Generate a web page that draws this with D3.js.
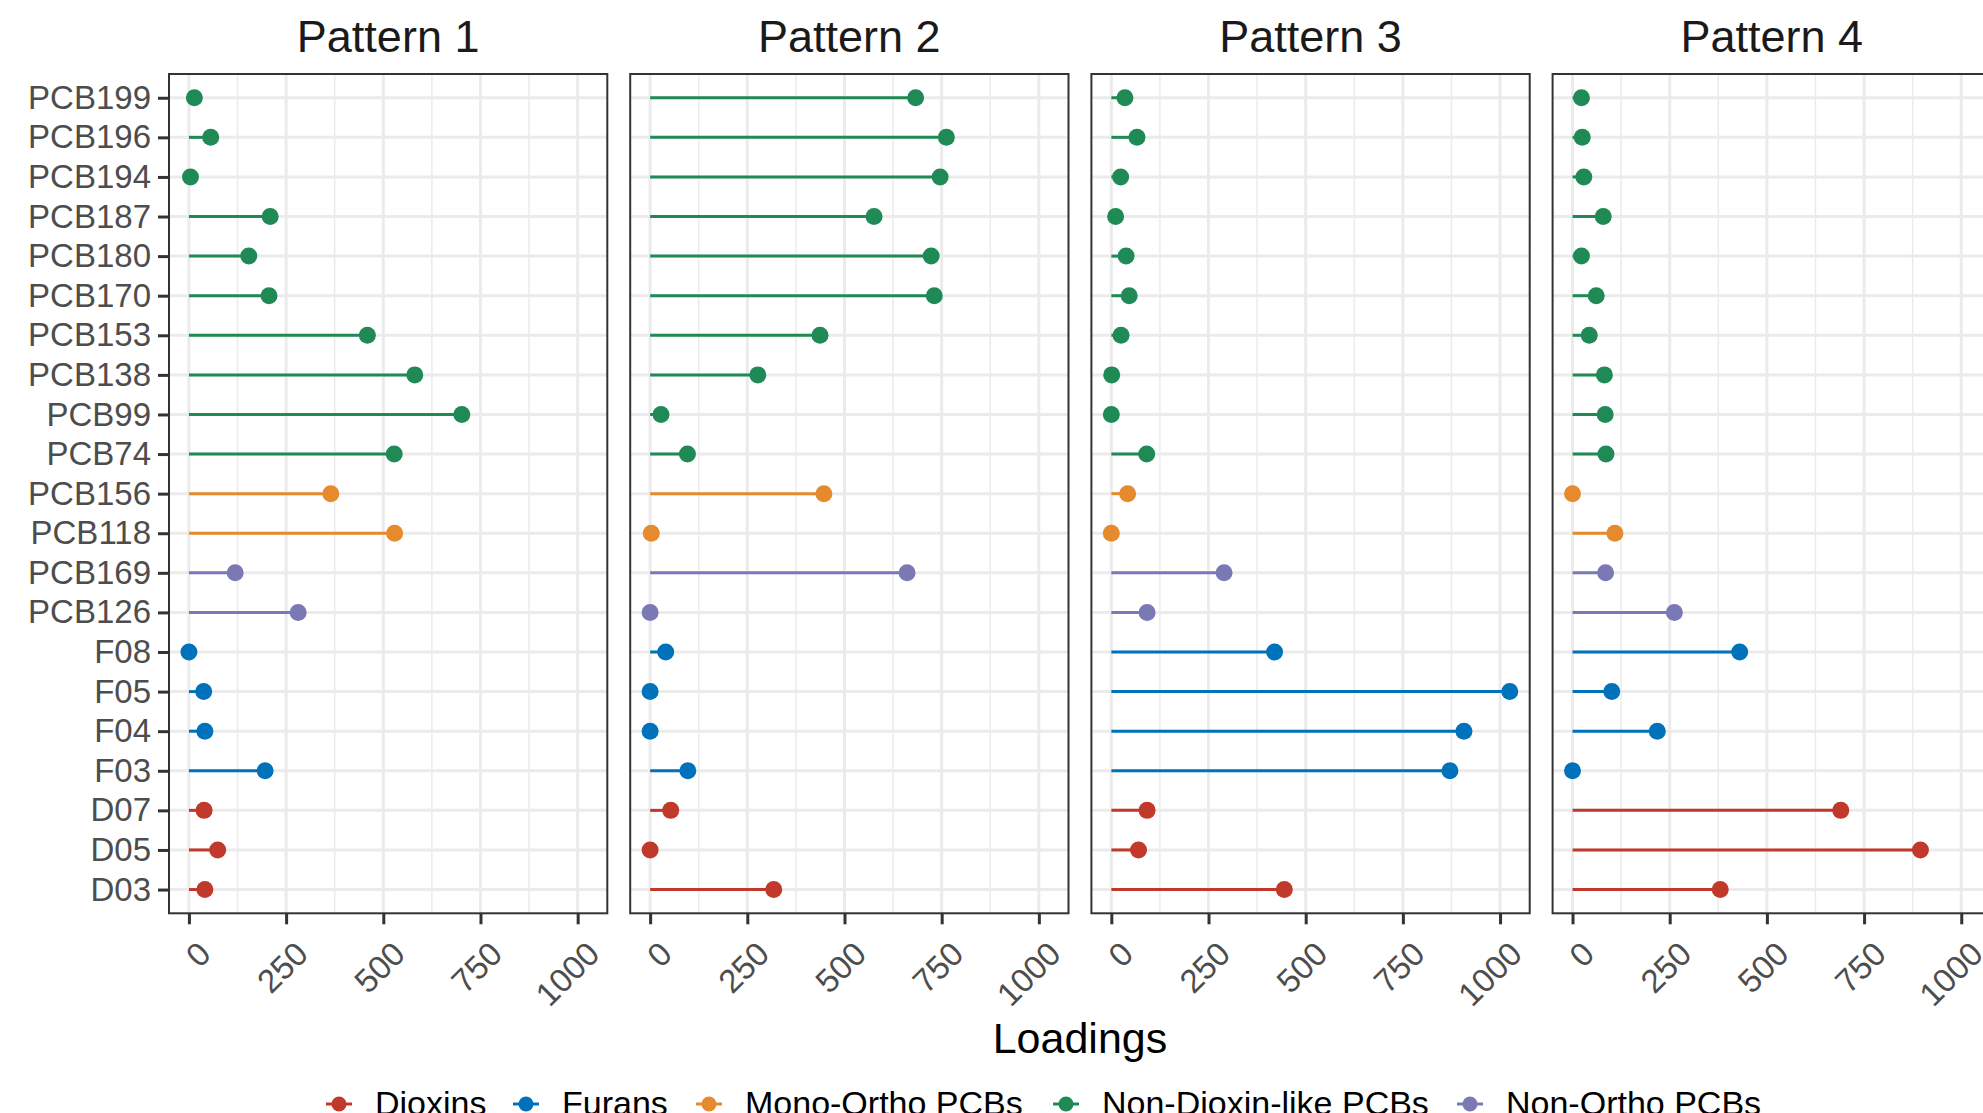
<!DOCTYPE html>
<html>
<head>
<meta charset="utf-8">
<script src="https://cdn.jsdelivr.net/npm/d3@7"></script>
<style>
  html, body { margin: 0; padding: 0; background: #fff; overflow: hidden; }
  svg { display: block; font-family: "Liberation Sans", Arial, Helvetica, sans-serif; }
</style>
</head>
<body>
<svg id="chart" width="1983" height="1113"></svg>
<script>
// compounds, top to bottom
const categories = ['PCB199', 'PCB196', 'PCB194', 'PCB187', 'PCB180', 'PCB170', 'PCB153', 'PCB138', 'PCB99', 'PCB74',
  'PCB156', 'PCB118', 'PCB169', 'PCB126', 'F08', 'F05', 'F04', 'F03', 'D07', 'D05', 'D03'];
const categoryGroups = ['Non-Dioxin-like PCBs', 'Non-Dioxin-like PCBs', 'Non-Dioxin-like PCBs', 'Non-Dioxin-like PCBs',
  'Non-Dioxin-like PCBs', 'Non-Dioxin-like PCBs', 'Non-Dioxin-like PCBs', 'Non-Dioxin-like PCBs', 'Non-Dioxin-like PCBs',
  'Non-Dioxin-like PCBs', 'Mono-Ortho PCBs', 'Mono-Ortho PCBs', 'Non-Ortho PCBs', 'Non-Ortho PCBs',
  'Furans', 'Furans', 'Furans', 'Furans', 'Dioxins', 'Dioxins', 'Dioxins'];

const groupNames = ['Dioxins', 'Furans', 'Mono-Ortho PCBs', 'Non-Dioxin-like PCBs', 'Non-Ortho PCBs'];
const groupColors = ['#c0392b', '#0072bb', '#e68a2e', '#1f8a55', '#7b78b6'];

const patterns = ['Pattern 1', 'Pattern 2', 'Pattern 3', 'Pattern 4'];
const pattern1 = [14, 56, 4, 209, 154, 206, 459, 581, 702, 528, 365, 529, 119, 281, 0, 38, 41, 196, 39, 74, 41];
const pattern2 = [683, 762, 746, 576, 723, 731, 437, 277, 28, 96, 447, 3, 661, 0, 40, 0, 0, 97, 53, 0, 318];
const pattern3 = [35, 66, 24, 11, 38, 46, 25, 1, 0, 91, 42, 0, 290, 92, 420, 1025, 907, 871, 92, 70, 445];
const pattern4 = [23, 25, 29, 79, 23, 61, 43, 82, 84, 86, 0, 109, 85, 262, 430, 101, 218, 0, 690, 895, 380];
const patternValues = [pattern1, pattern2, pattern3, pattern4];

const xTicks = [0, 250, 500, 750, 1000];
const xMinorTicks = [125, 375, 625, 875];

function drawChart() {
  const panelLeft = 169;
  const panelStep = 461.2;
  const panelWidth = 438.3;
  const panelTop = 74;
  const panelHeight = 839.3;
  const axisColor = '#333333';
  const textColor = '#4d4d4d';
  const gridColor = '#ebebeb';
  const axisFont = 33;

  const svg = d3.select('#chart');
  svg.selectAll('*').remove();

  const color = d3.scaleOrdinal().domain(groupNames).range(groupColors);

  // ggplot style 5% expansion around the data range
  const maxVal = d3.max(patternValues, (p) => d3.max(p));
  const expand = maxVal * 0.05;
  const xScale = d3.scaleLinear().domain([-expand, maxVal + expand]).range([0, panelWidth]);
  const yScale = d3.scalePoint().domain(categories).range([0, panelHeight]).padding(0.6);

  patterns.forEach((name, i) => {
    const values = patternValues[i];
    const rows = categories.map((c, j) => ({name: c, group: categoryGroups[j], x: values[j]}));
    const g = svg.append('g').attr('transform', `translate(${panelLeft + i * panelStep},${panelTop})`);

    // grid
    g.selectAll('line.minor').data(xMinorTicks).enter().append('line')
      .attr('x1', (d) => xScale(d)).attr('x2', (d) => xScale(d))
      .attr('y1', 0).attr('y2', panelHeight)
      .attr('stroke', gridColor).attr('stroke-width', 1.5);
    g.selectAll('line.vmajor').data(xTicks).enter().append('line')
      .attr('x1', (d) => xScale(d)).attr('x2', (d) => xScale(d))
      .attr('y1', 0).attr('y2', panelHeight)
      .attr('stroke', gridColor).attr('stroke-width', 3);
    g.selectAll('line.hmajor').data(categories).enter().append('line')
      .attr('x1', 0).attr('x2', panelWidth)
      .attr('y1', (d) => yScale(d)).attr('y2', (d) => yScale(d))
      .attr('stroke', gridColor).attr('stroke-width', 3);

    // lollipops
    g.selectAll('line.stem').data(rows).enter().append('line')
      .attr('x1', xScale(0)).attr('x2', (d) => xScale(d.x))
      .attr('y1', (d) => yScale(d.name)).attr('y2', (d) => yScale(d.name))
      .attr('stroke', (d) => color(d.group)).attr('stroke-width', 3);
    g.selectAll('circle').data(rows).enter().append('circle')
      .attr('cx', (d) => xScale(d.x)).attr('cy', (d) => yScale(d.name))
      .attr('r', 8.5).attr('fill', (d) => color(d.group));

    // border
    g.append('rect').attr('width', panelWidth).attr('height', panelHeight)
      .attr('fill', 'none').attr('stroke', axisColor).attr('stroke-width', 2);

    // strip title
    g.append('text').text(name)
      .attr('x', panelWidth / 2).attr('y', -22)
      .attr('text-anchor', 'middle')
      .attr('fill', '#1a1a1a').style('font-size', '45px');

    // x axis
    const xAxis = d3.axisBottom(xScale).tickValues(xTicks).tickSize(11).tickFormat('');
    const xg = g.append('g').attr('transform', `translate(0,${panelHeight})`).call(xAxis);
    xg.select('.domain').remove();
    xg.selectAll('.tick line').attr('stroke', axisColor).attr('stroke-width', 3);
    g.selectAll('text.xlab').data(xTicks).enter().append('text')
      .text((d) => d)
      .attr('transform', (d) => `translate(${xScale(d) + 7},${panelHeight + 26}) rotate(-45)`)
      .attr('text-anchor', 'end').attr('dy', '0.72em')
      .attr('fill', textColor).style('font-size', `${axisFont}px`);

    // y axis on the first panel only
    if (i === 0) {
      const yAxis = d3.axisLeft(yScale).tickSize(11).tickPadding(7);
      const yg = g.append('g').call(yAxis);
      yg.select('.domain').remove();
      yg.selectAll('.tick line').attr('stroke', axisColor).attr('stroke-width', 3);
      yg.selectAll('.tick text').attr('fill', textColor)
        .style('font-size', `${axisFont}px`).style('font-family', 'inherit');
    }
  });

  // axis title
  svg.append('text').text('Loadings')
    .attr('x', panelLeft + (3 * panelStep + panelWidth) / 2).attr('y', 1053)
    .attr('text-anchor', 'middle').attr('fill', '#000').style('font-size', '43px');

  // legend
  const legendX = [339, 526, 709, 1066, 1470];
  const legendY = 1104;
  const lg = svg.selectAll('g.legend').data(groupNames).enter().append('g')
    .attr('transform', (d, k) => `translate(${legendX[k]},${legendY})`);
  lg.append('line').attr('x1', -13).attr('x2', 13)
    .attr('stroke', (d) => color(d)).attr('stroke-width', 3);
  lg.append('circle').attr('r', 7.5).attr('fill', (d) => color(d));
  lg.append('text').text((d) => d)
    .attr('x', 36).attr('y', 11)
    .attr('fill', '#000').style('font-size', '34px');
}

drawChart();
</script>
</body>
</html>
